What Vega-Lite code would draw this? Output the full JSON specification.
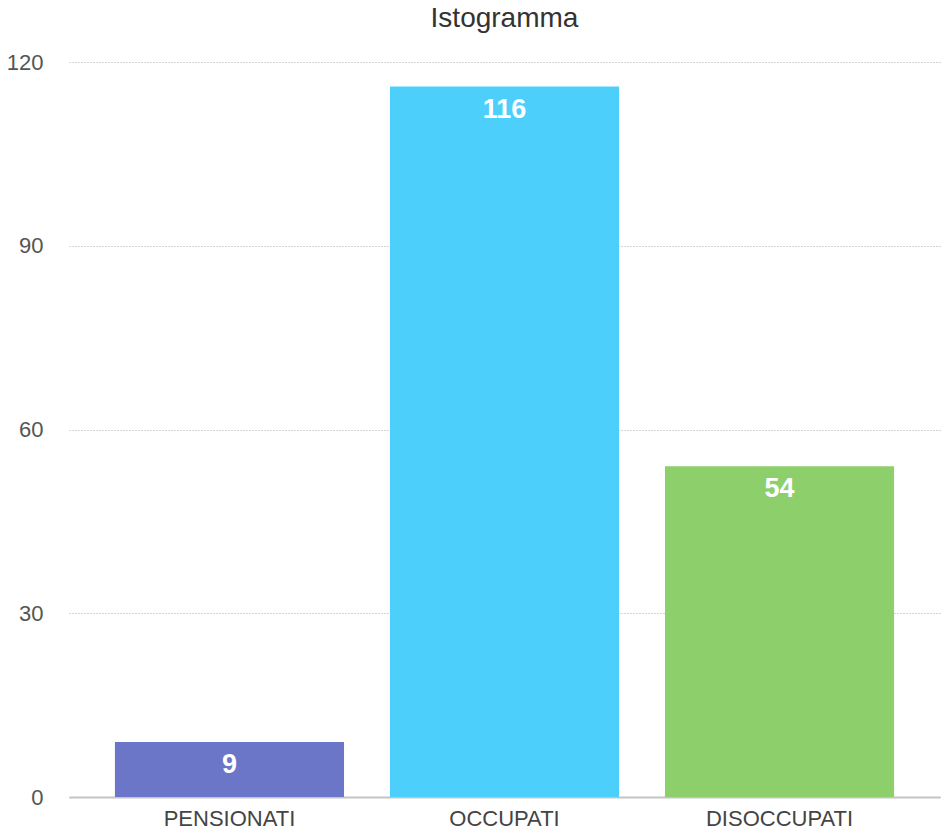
{
  "$schema": "https://vega.github.io/schema/vega-lite/v6.json",
  "autosize": {"type": "none"},
  "padding": {"left": 69, "top": 62, "right": 1, "bottom": 38},
  "width": 871,
  "height": 735,
  "background": "white",
  "config": {"view": {"stroke": null}},
  "title": {"text": "Istogramma", "fontSize": 28, "font": "Liberation Sans", "fontWeight": "normal", "color": "#333", "anchor": "middle", "offset": 18},
  "data": {"values": [
    {"categoria": "PENSIONATI", "valore": 9},
    {"categoria": "OCCUPATI", "valore": 116},
    {"categoria": "DISOCCUPATI", "valore": 54}
  ]},
  "encoding": {
    "x": {"field": "categoria", "type": "nominal", "sort": null,
      "scale": {"paddingInner": 0.167, "paddingOuter": 0.167},
      "axis": {"title": null, "labelAngle": 0, "ticks": false, "labelFontSize": 22, "labelFont": "Liberation Sans", "labelColor": "#444", "labelPadding": 11, "domainColor": "#c4c4c4", "domainWidth": 2}},
    "y": {"field": "valore", "type": "quantitative",
      "scale": {"domain": [0, 120]},
      "axis": {"title": null, "values": [0, 30, 60, 90, 120], "ticks": false, "domain": false, "labelFontSize": 22, "labelFont": "Liberation Sans", "labelColor": "#555", "labelPadding": 26, "gridDash": [1, 2], "gridColor": "#aaa", "gridWidth": 1}}
  },
  "layer": [
    {"mark": {"type": "bar"},
     "encoding": {"color": {"field": "categoria", "type": "nominal", "legend": null,
       "scale": {"domain": ["PENSIONATI", "OCCUPATI", "DISOCCUPATI"], "range": ["#6b76c8", "#4dcffb", "#8dcf6a"]}}}},
    {"mark": {"type": "text", "baseline": "middle", "dy": 23, "fontSize": 27, "font": "Liberation Sans", "fontWeight": "bold", "color": "white"},
     "encoding": {"text": {"field": "valore", "type": "quantitative"}}}
  ]
}
